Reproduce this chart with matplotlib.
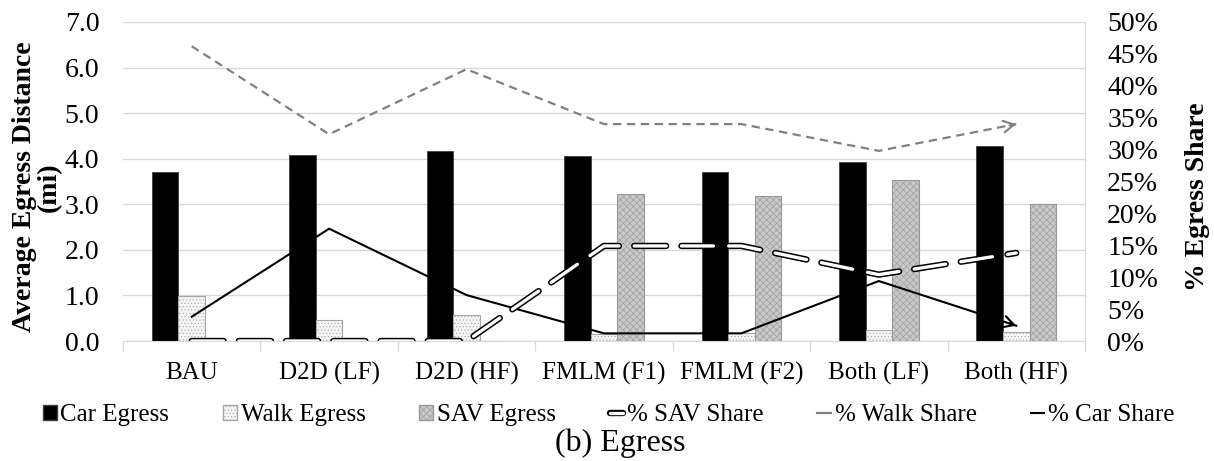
import matplotlib.pyplot as plt
import numpy as np
from matplotlib.ticker import FuncFormatter
from matplotlib.lines import Line2D
from matplotlib.patches import Patch

plt.rcParams['font.family'] = ['Liberation Serif', 'DejaVu Serif']
plt.rcParams['hatch.linewidth'] = 0.4
plt.rcParams['lines.scale_dashes'] = False

scenarios = ['BAU', 'D2D (LF)', 'D2D (HF)', 'FMLM (F1)', 'FMLM (F2)', 'Both (LF)', 'Both (HF)']

# average egress distance, miles
car_egress = [3.70, 4.08, 4.18, 4.07, 3.70, 3.93, 4.27]
walk_egress = [0.99, 0.46, 0.57, 0.15, 0.17, 0.24, 0.19]
sav_egress = [0.0, 0.0, 0.0, 3.22, 3.18, 3.54, 3.01]

# egress mode share, percent
sav_share = [0.0, 0.0, 0.0, 14.9, 14.9, 10.4, 13.8]
walk_share = [46.2, 32.4, 42.6, 34.0, 34.0, 29.8, 34.0]
car_share = [3.8, 17.6, 7.2, 1.2, 1.2, 9.4, 2.4]

grid_col = '#d9d9d9'

fig = plt.figure(figsize=(12.14, 4.61), dpi=100)
ax = fig.add_axes([0.1013, 0.2603, 0.7924, 0.6920])

x = np.arange(len(scenarios))
w = 0.193
ax.bar(x - w, car_egress, w, color='black', edgecolor='#404040', linewidth=0.6, zorder=2)
ax.bar(x, walk_egress, w, color='#f5f5f5', edgecolor='#a6a6a6', hatch='.....', linewidth=0.8, zorder=2)
ax.bar(x + w, sav_egress, w, color='#c8c8c8', edgecolor='#999999', hatch='xxxxx', linewidth=0.8, zorder=2)

ax.set_xlim(-0.5, len(scenarios) - 0.5)
ax.set_ylim(0, 7)
ax.set_yticks(np.arange(0, 7.5, 1.0))
ax.yaxis.set_major_formatter(FuncFormatter(lambda v, p: f'{v:.1f}'))
ax.yaxis.grid(True, color=grid_col, lw=1.0, zorder=0)
ax.set_axisbelow(True)
ax.tick_params(axis='y', length=0, labelsize=20, pad=17)
ax.set_xticks(x)
ax.set_xticklabels(scenarios, fontsize=18)
ax.tick_params(axis='x', which='major', length=0, pad=15)
ax.set_xticks(np.arange(-0.5, len(scenarios), 1.0), minor=True)
ax.tick_params(axis='x', which='minor', length=7, color=grid_col, width=1.0)
for s in ['top', 'left']:
    ax.spines[s].set_visible(False)
ax.spines['bottom'].set_color(grid_col)
ax.spines['right'].set_color(grid_col)

ax2 = ax.twinx()
ax2.set_ylim(0, 0.5)
ax2.set_yticks(np.arange(0, 0.51, 0.05))
ax2.yaxis.set_major_formatter(FuncFormatter(lambda v, p: f'{v * 100:.0f}%'))
ax2.tick_params(axis='y', length=0, labelsize=20, pad=16)
for s in ax2.spines.values():
    s.set_visible(False)

sav = np.array(sav_share) / 100
walk = np.array(walk_share) / 100
car = np.array(car_share) / 100

# double-line dashed SAV share
ax2.plot(x, sav, color='black', lw=4.6, dashes=(23, 11), dash_capstyle='round',
         solid_capstyle='round', zorder=3)
ax2.plot(x, sav, color='white', lw=2.4, dashes=(23, 11), dash_capstyle='round',
         solid_capstyle='round', zorder=4)
ax2.plot(x, walk, color='#808080', lw=1.6, dashes=(6, 4), zorder=3)
ax2.plot(x, car, color='black', lw=1.5, zorder=3)


def end_arrow(axis, ys, color):
    x0, x1 = x[-2], x[-1]
    y0, y1 = ys[-2], ys[-1]
    axis.annotate('', xy=(x1, y1), xytext=(x1 - 0.05 * (x1 - x0), y1 - 0.05 * (y1 - y0)),
                  arrowprops=dict(arrowstyle='->,head_length=0.55,head_width=0.3',
                                  color=color, lw=1.5, shrinkA=0, shrinkB=0,
                                  mutation_scale=14), zorder=5)


end_arrow(ax2, walk, '#808080')
end_arrow(ax2, car, 'black')

fig.text(37 / 1214, 1 - 187 / 461, 'Average Egress Distance\n(mi)', rotation=90,
         ha='center', va='center', fontsize=20, fontweight='bold', linespacing=0.95)
fig.text(1198 / 1214, 1 - 197 / 461, '% Egress Share', rotation=90,
         ha='center', va='center', fontsize=20, fontweight='bold')

handles = [
    Patch(facecolor='black', edgecolor='#404040'),
    Patch(facecolor='#f5f5f5', edgecolor='#a6a6a6', hatch='.....'),
    Patch(facecolor='#c8c8c8', edgecolor='#999999', hatch='xxxxx'),
    (Line2D([], [], color='black', lw=4.6, solid_capstyle='round'),
     Line2D([], [], color='white', lw=2.4, solid_capstyle='round')),
    Line2D([], [], color='#808080', lw=1.6),
    Line2D([], [], color='black', lw=1.5),
]
labels = ['Car Egress', 'Walk Egress', 'SAV Egress', '% SAV Share', '% Walk Share', '% Car Share']
fig.legend(handles, labels, loc='center left', bbox_to_anchor=(43 / 1214, 1 - 415 / 461),
           ncol=6, frameon=False, fontsize=18, handlelength=0.55, handleheight=0.55,
           handletextpad=0.15, columnspacing=2.15, borderaxespad=0, borderpad=0)

fig.text(620 / 1214, 1 - 443 / 461, '(b) Egress', ha='center', va='center', fontsize=23)

fig.savefig('out.png', dpi=100)
